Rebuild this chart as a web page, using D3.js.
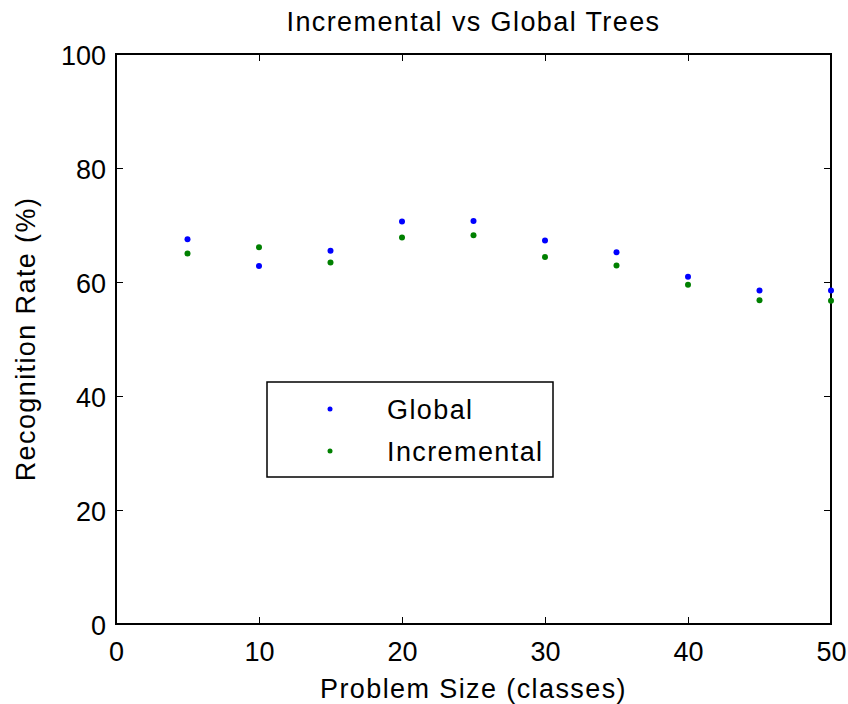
<!DOCTYPE html>
<html lang="en">
<head>
	<meta charset="UTF-8">
	<title>Incremental vs Global Trees</title>
	<script src="https://d3js.org/d3.v7.min.js"></script>
	<style>
		body {
			margin: 0;
			background: #fff;
		}
		text {
			font-family: "Liberation Sans", Arial, sans-serif;
			fill: #000;
		}
		.label {
			font-size: 27px;
			letter-spacing: 1.4px;
		}
	</style>
</head>
<body>
	<div id="chart"></div>
	<script>
		// data
		const problemSize = [5, 10, 15, 20, 25, 30, 35, 40, 45, 50];
		const globalRate = [67.5, 62.8, 65.5, 70.6, 70.7, 67.3, 65.2, 60.9, 58.5, 58.5];
		const incrementalRate = [65.0, 66.1, 63.4, 67.8, 68.2, 64.4, 62.9, 59.5, 56.8, 56.7];
		const xTicks = [0, 10, 20, 30, 40, 50];
		const yTicks = [0, 20, 40, 60, 80, 100];

		const width = 848, height = 704;
		const plotLeft = 116, plotRight = 831, plotTop = 54, plotBottom = 624;

		const svg = d3.select("#chart")
			.append("svg")
			.attr("width", width)
			.attr("height", height);

		const x = d3.scaleLinear().domain([0, 50]).range([plotLeft, plotRight]);
		const y = d3.scaleLinear().domain([0, 100]).range([plotBottom, plotTop]);

		const tickLen = 7;

		// axes with inward ticks on all four sides (box style)
		const styleAxis = g => {
			g.select(".domain").remove();
			g.selectAll(".tick line").attr("stroke", "#000").attr("stroke-width", 1);
			g.selectAll(".tick text").attr("font-size", 27).attr("fill", "#000")
				.attr("font-family", "'Liberation Sans', Arial, sans-serif");
		};

		svg.append("g")
			.attr("transform", `translate(0,${plotBottom})`)
			.call(d3.axisBottom(x).tickValues(xTicks).tickSizeInner(-tickLen).tickSizeOuter(0))
			.call(styleAxis)
			.call(g => g.selectAll(".tick text").attr("y", 37).attr("dy", 0));
		svg.append("g")
			.attr("transform", `translate(0,${plotTop})`)
			.call(d3.axisTop(x).tickValues(xTicks).tickSizeInner(-tickLen).tickSizeOuter(0).tickFormat(""))
			.call(styleAxis);
		svg.append("g")
			.attr("transform", `translate(${plotLeft},0)`)
			.call(d3.axisLeft(y).tickValues(yTicks).tickSizeInner(-tickLen).tickSizeOuter(0))
			.call(styleAxis)
			.call(g => g.selectAll(".tick text").attr("x", -10).attr("dy", 10));
		svg.append("g")
			.attr("transform", `translate(${plotRight},0)`)
			.call(d3.axisRight(y).tickValues(yTicks).tickSizeInner(-tickLen).tickSizeOuter(0).tickFormat(""))
			.call(styleAxis);

		// axes box
		svg.append("rect")
			.attr("x", plotLeft).attr("y", plotTop)
			.attr("width", plotRight - plotLeft).attr("height", plotBottom - plotTop)
			.attr("fill", "none").attr("stroke", "#000").attr("stroke-width", 2);

		// points
		svg.append("g").selectAll("circle")
			.data(problemSize)
			.enter().append("circle")
			.attr("cx", d => x(d))
			.attr("cy", (d, i) => y(globalRate[i]))
			.attr("r", 3)
			.attr("fill", "#0000ff");

		svg.append("g").selectAll("circle")
			.data(problemSize)
			.enter().append("circle")
			.attr("cx", d => x(d))
			.attr("cy", (d, i) => y(incrementalRate[i]))
			.attr("r", 3)
			.attr("fill", "#008000");

		// title and labels
		svg.append("text").attr("class", "label")
			.attr("x", (plotLeft + plotRight) / 2).attr("y", 31)
			.attr("text-anchor", "middle")
			.text("Incremental vs Global Trees");
		svg.append("text").attr("class", "label")
			.attr("x", (plotLeft + plotRight) / 2).attr("y", 698)
			.attr("text-anchor", "middle")
			.text("Problem Size (classes)");
		svg.append("text").attr("class", "label")
			.attr("transform", "translate(35," + ((plotTop + plotBottom) / 2) + ") rotate(-90)")
			.attr("text-anchor", "middle")
			.text("Recognition Rate (%)");

		// legend
		const legend = svg.append("g");
		legend.append("rect")
			.attr("x", 267).attr("y", 382).attr("width", 286).attr("height", 95)
			.attr("fill", "#fff").attr("stroke", "#000").attr("stroke-width", 1.5);
		const legendItems = [
			{ name: "Global", color: "#0000ff" },
			{ name: "Incremental", color: "#008000" }
		];
		legendItems.forEach((item, i) => {
			const cy = 409 + i * 42;
			legend.append("circle").attr("cx", 330).attr("cy", cy).attr("r", 2.5).attr("fill", item.color);
			legend.append("text").attr("class", "label")
				.attr("x", 387).attr("y", cy + 10)
				.text(item.name);
		});
	</script>
</body>
</html>
